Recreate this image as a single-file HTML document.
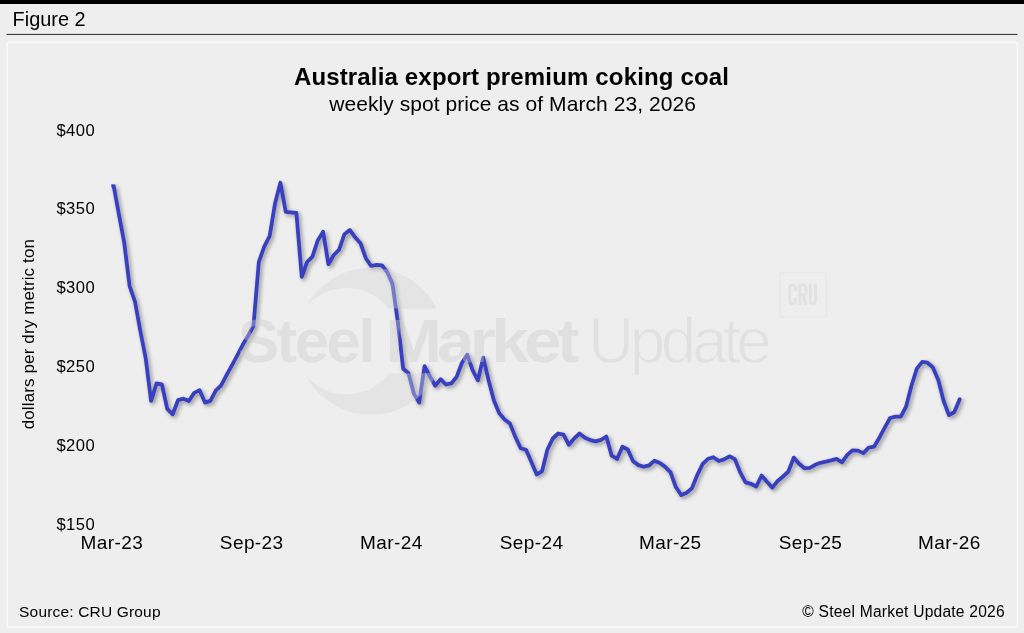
<!DOCTYPE html>
<html><head><meta charset="utf-8"><title>Figure 2</title>
<style>
html,body{margin:0;padding:0;background:#eeeeee;}
body{width:1024px;height:633px;overflow:hidden;font-family:"Liberation Sans",sans-serif;}
svg{display:block;will-change:transform;}
text{font-family:"Liberation Sans",sans-serif;}
</style></head><body>
<svg width="1024" height="633" viewBox="0 0 1024 633">
<defs>
<filter id="sh" x="-5%" y="-5%" width="110%" height="110%">
<feGaussianBlur in="SourceAlpha" stdDeviation="2"/>
<feOffset dx="2.2" dy="2.2" result="b"/>
<feComponentTransfer><feFuncA type="linear" slope="0.4"/></feComponentTransfer>
<feMerge><feMergeNode/><feMergeNode in="SourceGraphic"/></feMerge>
</filter>
<clipPath id="cres">
<rect x="280" y="250" width="180" height="58.6"/>
<rect x="280" y="373.2" width="180" height="60"/>
</clipPath>
<clipPath id="cruclip"><rect x="785" y="283.5" width="36" height="22.1"/></clipPath>
<mask id="inner">
<rect x="280" y="250" width="200" height="200" fill="#fff"/>
<circle cx="346.5" cy="341.2" r="53.2" fill="#000"/>
</mask>
</defs>
<rect x="0" y="0" width="1024" height="633" fill="#eeeeee"/>
<rect x="0" y="0" width="1024" height="4" fill="#000"/>
<text x="12.6" y="25.9" font-size="19.9">Figure 2</text>
<rect x="6.5" y="33.9" width="1011" height="1.1" fill="#3c3c3c"/>
<rect x="7.2" y="42.4" width="1010.2" height="584.8" rx="1.5" fill="none" stroke="#fafafa" stroke-width="1.6"/>
<text x="511.5" y="84.8" font-size="24" font-weight="bold" text-anchor="middle" letter-spacing="0.16">Australia export premium coking coal</text>
<text x="512.6" y="110.6" font-size="21" text-anchor="middle" letter-spacing="0.07">weekly spot price as of March 23, 2026</text>
<g font-size="16.6" letter-spacing="0.45">
<text x="56.4" y="135.6">$400</text>
<text x="56.4" y="214.4">$350</text>
<text x="56.4" y="293.2">$300</text>
<text x="56.4" y="372.0">$250</text>
<text x="56.4" y="450.8">$200</text>
<text x="56.4" y="529.6">$150</text>
</g>
<g font-size="19" text-anchor="middle" letter-spacing="0.4">
<text x="111.9" y="549.4">Mar-23</text>
<text x="251.7" y="549.4">Sep-23</text>
<text x="391.4" y="549.4">Mar-24</text>
<text x="531.6" y="549.4">Sep-24</text>
<text x="670.3" y="549.4">Mar-25</text>
<text x="810.5" y="549.4">Sep-25</text>
<text x="949.4" y="549.4">Mar-26</text>
</g>
<text transform="translate(34.3,334.1) rotate(-90)" font-size="17" text-anchor="middle" letter-spacing="0.13">dollars per dry metric ton</text>
<g filter="url(#sh)">
<polyline points="113.40,184.5 118.79,213.6 124.17,242.3 129.56,285.8 134.95,301.5 140.34,331.0 145.72,358.5 151.11,400.9 156.50,383.5 161.88,384.3 167.27,408.9 172.66,414.3 178.04,400.2 183.43,398.7 188.82,401.0 194.20,392.9 199.59,390.2 204.98,402.6 210.37,400.9 215.75,390.6 221.14,385.3 226.53,375.1 231.91,365.3 237.30,355.3 242.69,344.8 248.07,336.0 253.46,325.8 258.85,261.8 264.24,246.6 269.62,236.2 275.01,203.6 280.40,182.8 285.74,211.9 291.08,212.3 296.41,213.0 301.75,276.8 307.09,262.0 312.43,256.6 317.77,240.4 323.10,231.8 328.44,264.2 333.78,255.0 339.12,249.6 344.46,234.2 349.79,229.9 355.13,237.3 360.47,243.2 365.81,258.2 371.15,266.0 376.48,264.8 381.82,265.3 387.16,272.0 392.50,284.0 397.84,322.0 403.17,368.8 408.51,373.2 413.85,393.6 419.19,402.6 424.53,366.2 429.86,376.3 435.20,385.7 440.54,379.2 445.88,384.5 451.22,383.4 456.55,377.1 461.89,363.0 467.23,354.7 472.57,370.1 477.91,380.3 483.24,357.6 488.58,380.3 493.92,400.4 499.26,413.3 504.60,419.5 509.95,423.6 515.31,436.9 520.66,448.2 526.02,449.8 531.37,462.0 536.72,474.5 542.08,471.1 547.43,449.5 552.79,438.5 558.14,433.5 563.49,434.6 568.85,444.8 574.20,438.5 579.56,433.5 584.91,437.7 590.26,440.1 595.62,441.3 600.97,439.8 606.33,436.5 611.68,455.7 617.03,458.9 622.39,446.7 627.74,449.5 633.10,461.2 638.45,465.1 643.80,466.7 649.16,465.3 654.51,460.7 659.87,463.0 665.22,466.9 670.57,472.4 675.93,487.3 681.28,495.1 686.64,492.8 691.99,488.1 697.34,474.8 702.70,463.8 708.05,458.8 713.41,457.2 718.76,461.0 724.11,459.4 729.47,456.3 734.82,459.1 740.18,472.4 745.53,482.3 750.88,483.8 756.24,486.5 761.59,475.6 766.95,481.8 772.30,487.6 777.65,481.0 783.01,476.5 788.36,471.5 793.72,457.6 799.07,463.7 804.42,468.2 809.78,467.9 815.13,464.8 820.49,462.8 825.84,461.7 831.19,460.4 836.55,458.9 841.90,462.3 847.26,454.9 852.61,450.3 857.96,450.6 863.32,453.1 868.67,447.6 874.03,446.7 879.38,437.7 884.73,427.6 890.09,418.0 895.44,416.6 900.80,416.6 906.15,406.5 911.50,385.5 916.86,368.6 922.21,361.9 927.57,362.7 932.92,367.4 938.27,380.0 943.63,401.0 948.98,415.1 954.34,412.0 959.69,399.2" fill="none" stroke="#3840c0" stroke-width="3.8" stroke-linejoin="round" stroke-linecap="butt"/>
<polygon points="111.2,184.2 113.2,184.4 113.2,188.2 111.7,188" fill="#3840c0"/>
<circle cx="959.69" cy="399.2" r="1.9" fill="#3840c0"/>
</g>
<g style="fill:rgb(214,214,214)" opacity="0.38">
<g clip-path="url(#cres)"><circle cx="371" cy="341.3" r="73.5" mask="url(#inner)"/></g>
</g>
<g style="fill:rgb(204,204,204)" opacity="0.38" font-size="61.5" font-weight="bold">
<text x="238" y="362.2" letter-spacing="-2.4">Steel</text>
<text transform="translate(385.6,362.2) scale(1.1,1)" letter-spacing="-4.4">Market</text>
</g>
<text x="588" y="363" font-size="64" letter-spacing="-4.5" style="fill:#e1e1e1" stroke="#eeeeee" stroke-width="1.3">Update</text>
<rect x="779.7" y="272.1" width="46.6" height="45.2" rx="3" fill="none" stroke="#e7e7e7" stroke-width="1.1"/>
<g fill="none" stroke="#e2e2e2" stroke-width="3.1" stroke-linejoin="miter" clip-path="url(#cruclip)">
<path d="M795.4,291.6V288.2a2.9,2.9 0 0 0 -5.8,0V300.9a2.9,2.9 0 0 0 5.8,0V297.4"/>
<path d="M799.9,305.6V285.1H803.2a2.8,2.8 0 0 1 2.8,2.8V292.2a2.8,2.8 0 0 1 -2.8,2.8H799.9M803.4,295.2L806,305.6"/>
<path d="M810.3,283.5V301a2.6,2.6 0 0 0 5.2,0V283.5"/>
</g>
<text x="19.1" y="617.0" font-size="15.5" letter-spacing="0.17">Source: CRU Group</text>
<text x="1004.8" y="617.0" font-size="15.6" letter-spacing="0.21" text-anchor="end">© Steel Market Update 2026</text>
</svg>
</body></html>
